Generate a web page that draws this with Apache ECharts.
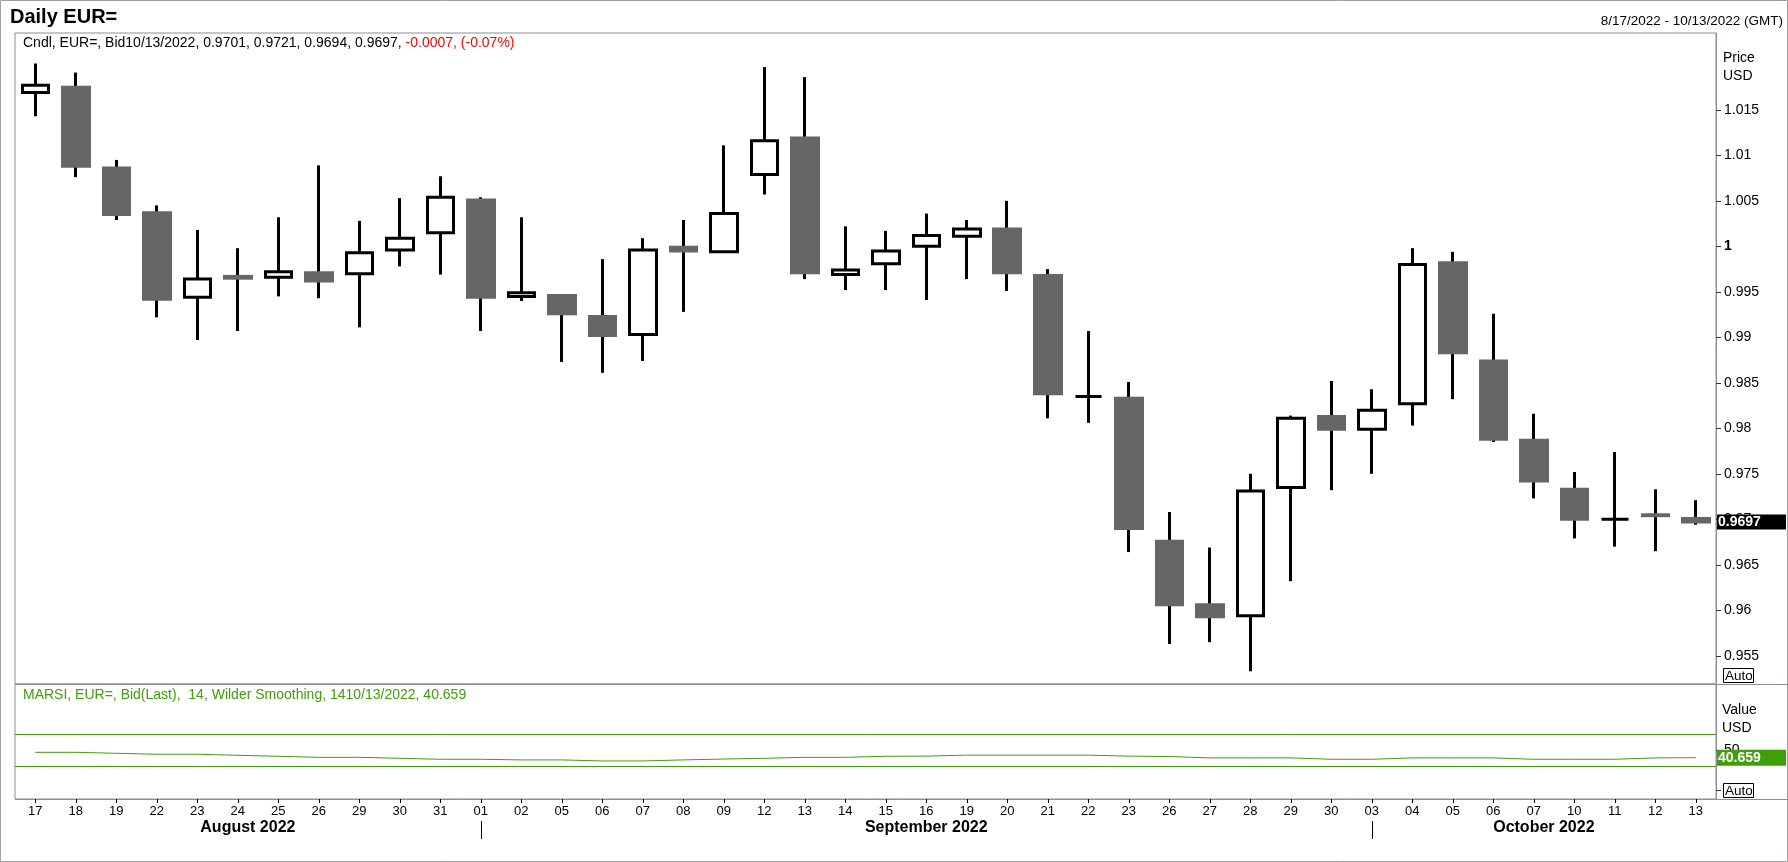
<!DOCTYPE html>
<html>
<head>
<meta charset="utf-8">
<title>Daily EUR=</title>
<script src="https://cdn.jsdelivr.net/npm/echarts@6/dist/echarts.min.js"></script>
<style>
  html, body { margin: 0; padding: 0; background: #fff; }
  #chart { width: 1788px; height: 862px; }
</style>
</head>
<body>
<div id="chart"></div>
<script>
// daily bars, 8/17/2022 - 10/13/2022
const dates = [
  "2022-08-17", "2022-08-18", "2022-08-19", "2022-08-22", "2022-08-23", "2022-08-24",
  "2022-08-25", "2022-08-26", "2022-08-29", "2022-08-30", "2022-08-31",
  "2022-09-01", "2022-09-02", "2022-09-05", "2022-09-06", "2022-09-07", "2022-09-08",
  "2022-09-09", "2022-09-12", "2022-09-13", "2022-09-14", "2022-09-15", "2022-09-16",
  "2022-09-19", "2022-09-20", "2022-09-21", "2022-09-22", "2022-09-23", "2022-09-26",
  "2022-09-27", "2022-09-28", "2022-09-29", "2022-09-30",
  "2022-10-03", "2022-10-04", "2022-10-05", "2022-10-06", "2022-10-07", "2022-10-10",
  "2022-10-11", "2022-10-12", "2022-10-13",
];
const opens = [
  1.0169, 1.0175, 1.0086, 1.0037, 0.9944, 0.9967, 0.9966, 0.9971, 0.997, 0.9996, 1.0015,
  1.0051, 0.9945, 0.9946, 0.9923, 0.9903, 0.9999, 0.9994, 1.0079, 1.0119, 0.9969, 0.9981,
  1.0, 1.0011, 1.0019, 0.9968, 0.9835, 0.9833, 0.9676, 0.9606, 0.9594, 0.9735, 0.9813,
  0.9799, 0.9827, 0.9982, 0.9874, 0.9787, 0.9733, 0.97, 0.9705, 0.9701,
];
const highs = [
  1.0201, 1.0191, 1.0095, 1.0045, 1.0018, 0.9998, 1.0032, 1.0089, 1.0028, 1.0053, 1.0077,
  1.0054, 1.0032, 0.9947, 0.9986, 1.0009, 1.0029, 1.0111, 1.0197, 1.0186, 1.0022, 1.0017,
  1.0036, 1.0029, 1.005, 0.9975, 0.9907, 0.9851, 0.9708, 0.9669, 0.975, 0.9814, 0.9852,
  0.9843, 0.9998, 0.9994, 0.9926, 0.9816, 0.9752, 0.9774, 0.9733, 0.9721,
];
const lows = [
  1.0143, 1.0076, 1.0029, 0.9922, 0.9897, 0.9907, 0.9945, 0.9943, 0.9911, 0.9978, 0.9969,
  0.9907, 0.994, 0.9873, 0.9861, 0.9874, 0.9928, 0.9993, 1.0057, 0.9964, 0.9952, 0.9952,
  0.9941, 0.9964, 0.9951, 0.9811, 0.9806, 0.9664, 0.9563, 0.9565, 0.9533, 0.9632, 0.9732,
  0.975, 0.9803, 0.9832, 0.9785, 0.9723, 0.9679, 0.967, 0.9665, 0.9694,
];
const closes = [
  1.0177, 1.0088, 1.0035, 0.9942, 0.9964, 0.9965, 0.9972, 0.9962, 0.9993, 1.0009, 1.0054,
  0.9944, 0.9949, 0.9926, 0.9902, 0.9996, 0.9995, 1.0036, 1.0116, 0.9971, 0.9974, 0.9995,
  1.0012, 1.0019, 0.9971, 0.9838, 0.9835, 0.969, 0.9606, 0.9593, 0.9731, 0.9811, 0.9799,
  0.982, 0.998, 0.9883, 0.9788, 0.9742, 0.97, 0.97, 0.9704, 0.9697,
];
// MARSI 14, Wilder smoothing
const rsiValues = [
  47.3, 47.3, 46.1, 44.9, 44.9, 43.6, 42.4, 41.1, 41.1, 39.9, 38.7,
  38.7, 37.9, 37.9, 36.6, 36.6, 37.9, 39.0, 39.9, 41.1, 41.1, 42.4,
  42.6, 43.8, 43.8, 43.8, 43.8, 42.6, 42.1, 40.4, 40.4, 40.4, 38.7,
  38.7, 40.4, 40.4, 40.4, 38.7, 38.7, 38.7, 40.4, 40.659,
];
const rsiLevels = [70, 30];
const priceTicks = [0.955, 0.96, 0.965, 0.97, 0.975, 0.98, 0.985, 0.99, 0.995, 1, 1.005, 1.01, 1.015];
const rsiTicks = [0, 50];
const rsiLabels = [50];
const monthNames = { "08": "August 2022", "09": "September 2022", "10": "October 2022" };

const FONT = '"Liberation Sans", Arial, sans-serif';
const FRAME = "#8c8c9c";
const GREEN = "#3f9f0a";
const GRAY = "#666666";

// layout
const W = 1788, H = 862;
const LEFT = 15, PLOT_W = 1701;
const TOP1 = 33, H1 = 651;
const TOP2 = 684, H2 = 115;
const AXIS_X = LEFT + PLOT_W;

const chart = echarts.init(document.getElementById("chart"));

// wicks: zero height body at mid so only the black high-low line shows
const wickData = dates.map((d, i) => {
  const m = (opens[i] + closes[i]) / 2;
  return [m, m, lows[i], highs[i]];
});

const bodyData = dates.map((d, i) => {
  const o = opens[i], c = closes[i];
  const item = { value: [o, c, Math.min(o, c), Math.max(o, c)] };
  if (o === c) {
    item.itemStyle = {
      color: "#000", color0: "#000", borderColor: "#000",
      borderColor0: "#000", borderColorDoji: "#000",
    };
  }
  return item;
});

const fmtPrice = (v) => {
  const s = String(parseFloat(v.toFixed(3)));
  return s === "1" ? "{b|1}" : s;
};

chart.setOption({
  animation: false,
  backgroundColor: "#fff",
  textStyle: { fontFamily: FONT },
  grid: [
    {
      left: LEFT, top: TOP1, width: PLOT_W, height: H1,
      show: true, borderColor: FRAME, borderWidth: 1, outerBoundsMode: "none",
    },
    {
      left: LEFT, top: TOP2, width: PLOT_W, height: H2,
      show: true, borderColor: FRAME, borderWidth: 1, outerBoundsMode: "none",
    },
  ],
  xAxis: [
    {
      type: "category", gridIndex: 0, data: dates, boundaryGap: true,
      axisLine: { show: false, onZero: false }, axisTick: { show: false },
      axisLabel: { show: false }, splitLine: { show: false },
    },
    {
      type: "category", gridIndex: 1, data: dates, boundaryGap: true, position: "bottom",
      axisLine: { show: false, onZero: false },
      axisTick: { show: true, alignWithLabel: true, interval: 0, length: 4, lineStyle: { color: "#000" } },
      axisLabel: {
        interval: 0, margin: 6, fontSize: 13, color: "#000", fontFamily: FONT,
        formatter: (v) => v.slice(8),
      },
      splitLine: { show: false },
    },
  ],
  yAxis: [
    {
      type: "value", gridIndex: 0, position: "right",
      min: 0.9519, max: 1.02345, scale: true,
      axisLine: { show: true, onZero: false, lineStyle: { color: FRAME } },
      axisTick: { show: true, length: 5, lineStyle: { color: "#333" }, customValues: priceTicks },
      axisLabel: {
        customValues: priceTicks, margin: 8, fontSize: 14, color: "#000", fontFamily: FONT,
        formatter: fmtPrice,
        rich: { b: { fontWeight: "bold", fontSize: 14, color: "#000", fontFamily: FONT } },
      },
      splitLine: { show: false },
    },
    {
      type: "value", gridIndex: 1, position: "right",
      min: -10.5, max: 131.9,
      axisLine: { show: true, onZero: false, lineStyle: { color: FRAME } },
      axisTick: { show: true, length: 5, lineStyle: { color: "#333" }, customValues: rsiTicks },
      axisLabel: {
        customValues: rsiLabels, margin: 8, fontSize: 14, color: "#000", fontFamily: FONT,
      },
      splitLine: { show: false },
    },
  ],
  series: [
    {
      name: "wick", type: "candlestick", xAxisIndex: 0, yAxisIndex: 0,
      barWidth: 1, silent: true, data: wickData,
      itemStyle: {
        color: "#000", color0: "#000", borderColor: "#000", borderColor0: "#000",
        borderColorDoji: "#000", borderWidth: 3,
      },
    },
    {
      name: "EUR=", type: "candlestick", xAxisIndex: 0, yAxisIndex: 0,
      barWidth: 27, silent: true, data: bodyData,
      itemStyle: {
        color: "#fff", borderColor: "#000",
        color0: GRAY, borderColor0: GRAY,
        borderColorDoji: "#000", borderWidth: 3,
      },
    },
    {
      name: "MARSI", type: "line", xAxisIndex: 1, yAxisIndex: 1,
      data: rsiValues, showSymbol: false, silent: true,
      lineStyle: { color: GREEN, width: 1 },
      markLine: {
        silent: true, symbol: "none", label: { show: false },
        lineStyle: { color: GREEN, width: 1, type: "solid" },
        data: rsiLevels.map((v) => ({ yAxis: v })),
      },
    },
  ],
});

// overlays positioned through the axes
const lastPrice = closes[closes.length - 1];
const lastRsi = rsiValues[rsiValues.length - 1];
const yPrice = chart.convertToPixel({ yAxisIndex: 0 }, lastPrice);
const yRsi = chart.convertToPixel({ yAxisIndex: 1 }, lastRsi);

const monthStarts = [];
dates.forEach((d, i) => {
  if (i === 0 || d.slice(5, 7) !== dates[i - 1].slice(5, 7)) monthStarts.push(i);
});
const sepX = monthStarts.map((i) => chart.convertToPixel({ xAxisIndex: 1 }, dates[i]));

const graphics = [];
// outer frame and pane separators
graphics.push({
  type: "rect", silent: true,
  shape: { x: 0.5, y: 0.5, width: W - 1, height: H - 1 },
  style: { fill: "none", stroke: "#a0a0a8", lineWidth: 1 },
});
[TOP2, TOP2 + H2].forEach((y) => {
  graphics.push({
    type: "line", silent: true,
    shape: { x1: LEFT, y1: y + 0.5, x2: W, y2: y + 0.5 },
    style: { stroke: FRAME, lineWidth: 1 },
  });
});

const txt = (x, y, text, extra) => ({
  type: "text", silent: true, z: 100,
  style: Object.assign({
    x, y, text, fill: "#000", font: "14px " + FONT,
    align: "left", verticalAlign: "middle",
  }, extra || {}),
});

graphics.push(txt(10, 17, "Daily EUR=", { font: "bold 20px " + FONT }));
graphics.push(txt(W - 5, 21, "8/17/2022 - 10/13/2022 (GMT)", { align: "right", font: "13.5px " + FONT }));
graphics.push({
  type: "text", silent: true, z: 100,
  style: {
    x: 23, y: 43, verticalAlign: "middle",
    text: "{a|Cndl, EUR=, Bid10/13/2022, 0.9701, 0.9721, 0.9694, 0.9697, }{r|-0.0007, (-0.07%)}",
    rich: {
      a: { fill: "#000", font: "14px " + FONT },
      r: { fill: "#ff0000", font: "14px " + FONT },
    },
  },
});
graphics.push(txt(23, 695, "MARSI, EUR=, Bid(Last),  14, Wilder Smoothing, 1410/13/2022, 40.659",
  { fill: GREEN }));

graphics.push(txt(AXIS_X + 7, 58, "Price"));
graphics.push(txt(AXIS_X + 7, 76, "USD"));
graphics.push(txt(AXIS_X + 6, 710, "Value"));
graphics.push(txt(AXIS_X + 6, 728, "USD"));

// "Auto" boxes at the bottom of each pane
[TOP1 + H1, TOP2 + H2].forEach((bottom) => {
  graphics.push({
    type: "rect", silent: true, z: 100,
    shape: { x: AXIS_X + 7.5, y: bottom - 15.5, width: 30, height: 14 },
    style: { fill: "#fff", stroke: "#000", lineWidth: 1 },
  });
  graphics.push(txt(AXIS_X + 9, bottom - 8, "Auto", { font: "13.5px " + FONT, z: 101 }));
});

// last value tags
graphics.push({
  type: "rect", silent: true, z: 100,
  shape: { x: AXIS_X + 1, y: yPrice - 7.5, width: 69, height: 15 },
  style: { fill: "#000" },
});
graphics.push(txt(AXIS_X + 2, yPrice, String(lastPrice), { fill: "#fff", font: "bold 14px " + FONT }));
graphics.push({
  type: "rect", silent: true, z: 100,
  shape: { x: AXIS_X + 1, y: yRsi - 8, width: 69, height: 16 },
  style: { fill: GREEN },
});
graphics.push(txt(AXIS_X + 2, yRsi, String(lastRsi), { fill: "#fff", font: "bold 14px " + FONT }));

// month separators and month names
const axisBottom = TOP2 + H2;
monthStarts.forEach((idx, k) => {
  if (k > 0) {
    graphics.push({
      type: "line", silent: true,
      shape: { x1: Math.round(sepX[k]) + 0.5, y1: axisBottom + 22, x2: Math.round(sepX[k]) + 0.5, y2: axisBottom + 40 },
      style: { stroke: "#000", lineWidth: 1 },
    });
  }
  const left = k === 0 ? LEFT : sepX[k];
  const right = k === monthStarts.length - 1 ? AXIS_X : sepX[k + 1];
  graphics.push(txt((left + right) / 2, axisBottom + 29, monthNames[dates[idx].slice(5, 7)],
    { align: "center", font: "bold 16px " + FONT }));
});

chart.setOption({ graphic: graphics });
</script>
</body>
</html>
